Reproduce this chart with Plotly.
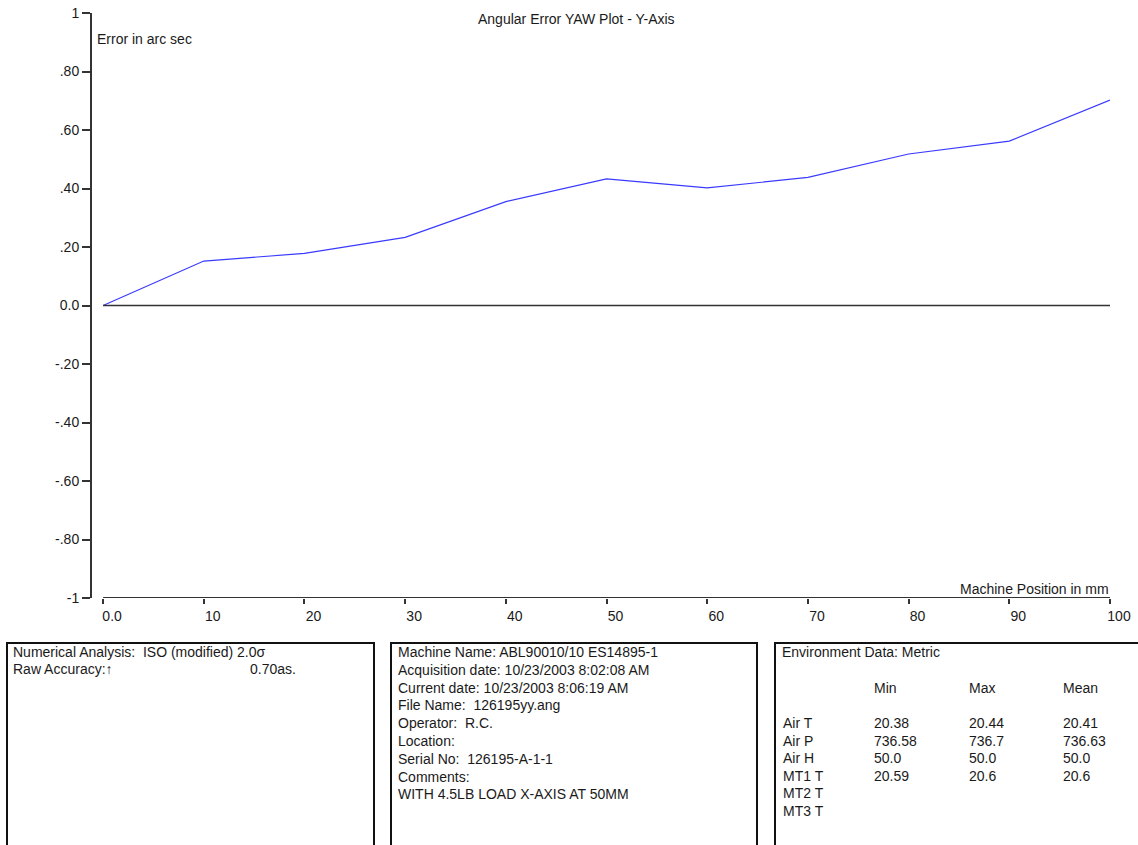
import plotly.graph_objects as go

# ---- data ----
positions = [0, 10, 20, 30, 40, 50, 60, 70, 80, 90, 100]
errors = [0.0, 0.152, 0.178, 0.233, 0.355, 0.433, 0.402, 0.438, 0.518, 0.562, 0.702]

x_tick_labels = ["0.0", "10", "20", "30", "40", "50", "60", "70", "80", "90", "100"]
y_tick_vals = [1, 0.8, 0.6, 0.4, 0.2, 0, -0.2, -0.4, -0.6, -0.8, -1]
y_tick_labels = ["1", ".80", ".60", ".40", ".20", "0.0", "-.20", "-.40", "-.60", "-.80", "-1"]

title_text = "Angular Error YAW Plot - Y-Axis"
y_title = "Error in arc sec"
x_title = "Machine Position in mm"

analysis_lines = ["Numerical Analysis:  ISO (modified) 2.0σ", "Raw Accuracy:\u2191"]
raw_accuracy = "0.70as."

info_lines = [
    "Machine Name: ABL90010/10 ES14895-1",
    "Acquisition date: 10/23/2003 8:02:08 AM",
    "Current date: 10/23/2003 8:06:19 AM",
    "File Name:  126195yy.ang",
    "Operator:  R.C.",
    "Location:",
    "Serial No:  126195-A-1-1",
    "Comments:",
    "WITH 4.5LB LOAD X-AXIS AT 50MM",
]

env_title = "Environment Data: Metric"
env_headers = ["Min", "Max", "Mean"]
env_rows = ["Air T", "Air P", "Air H", "MT1 T", "MT2 T", "MT3 T"]
env_min = ["20.38", "736.58", "50.0", "20.59", "", ""]
env_max = ["20.44", "736.7", "50.0", "20.6", "", ""]
env_mean = ["20.41", "736.63", "50.0", "20.6", "", ""]

# ---- layout geometry (pixels) ----
W, H = 1138, 845
L, R, T, B = 92, 1110, 13, 598
FONT = "Arial, Liberation Sans, sans-serif"
TXT = "#1a1a1a"
FS = 14


def px(x):
    return (x - L) / (R - L)


def py(y):
    return (B - y) / (B - T)


fig = go.Figure()
fig.add_trace(go.Scatter(x=positions, y=errors, mode="lines",
                         line=dict(color="#3a3aff", width=1.2),
                         hoverinfo="x+y", showlegend=False))

shapes = []
# zero line and x-axis line
shapes.append(dict(type="line", xref="x", yref="y", x0=positions[0], x1=positions[-1],
                   y0=0, y1=0, line=dict(color="#333333", width=1.5)))
shapes.append(dict(type="line", xref="x", yref="y", x0=positions[0], x1=positions[-1],
                   y0=y_tick_vals[-1], y1=y_tick_vals[-1], line=dict(color="#333333", width=2)))

# bottom boxes
for x0, x1 in [(7, 374), (391, 757), (775, 1145)]:
    shapes.append(dict(type="rect", xref="paper", yref="paper",
                       x0=px(x0), x1=px(x1), y0=py(852), y1=py(643),
                       line=dict(color="#111111", width=2), fillcolor="rgba(0,0,0,0)"))

annotations = []


def txt(x, y, s, anchor="left", size=FS):
    annotations.append(dict(xref="paper", yref="paper", x=px(x), y=py(y), text=s,
                            showarrow=False, xanchor=anchor, yanchor="middle",
                            font=dict(family=FONT, size=size, color=TXT)))


txt(576, 19, title_text, anchor="center")
txt(95, 39, y_title)
txt(1111, 589, x_title, anchor="right")

# box 1
txt(11, 652, analysis_lines[0])
txt(11, 669, analysis_lines[1])
txt(248, 669, raw_accuracy)

# box 2
for i, s in enumerate(info_lines):
    txt(396, 652 + i * 17.8, s)

# box 3
txt(780, 652, env_title)
for j, hdr in enumerate(env_headers):
    txt([872, 967, 1061][j], 688, hdr)
for i, name in enumerate(env_rows):
    yy = 723 + i * 17.5
    txt(781, yy, name)
    for j, col in enumerate([env_min, env_max, env_mean]):
        if col[i]:
            txt([872, 967, 1061][j], yy, col[i])

fig.update_layout(
    width=W, height=H, autosize=False,
    margin=dict(l=L, r=W - R, t=T, b=H - B, pad=0, autoexpand=False),
    paper_bgcolor="white", plot_bgcolor="white",
    font=dict(family=FONT, size=FS, color=TXT),
    showlegend=False,
    shapes=shapes,
    annotations=annotations,
    xaxis=dict(range=[-1.1, 100], showgrid=False, zeroline=False, showline=False,
               automargin=False,
               tickmode="array", tickvals=positions, ticktext=x_tick_labels,
               ticks="outside", ticklen=5, tickwidth=1.5, tickcolor="#333333",
               tickfont=dict(size=FS, color=TXT), ticklabelshift=9),
    yaxis=dict(range=[-1, 1], showgrid=False, zeroline=False, showline=True,
               automargin=False,
               linecolor="#333333", linewidth=2,
               tickmode="array", tickvals=y_tick_vals, ticktext=y_tick_labels,
               ticks="outside", ticklen=8, tickwidth=1.5, tickcolor="#333333",
               tickfont=dict(size=FS, color=TXT)),
)

fig.write_html("out.html", config={"displayModeBar": False},
               post_script="document.body.style.margin='0';document.body.style.overflow='hidden';")
